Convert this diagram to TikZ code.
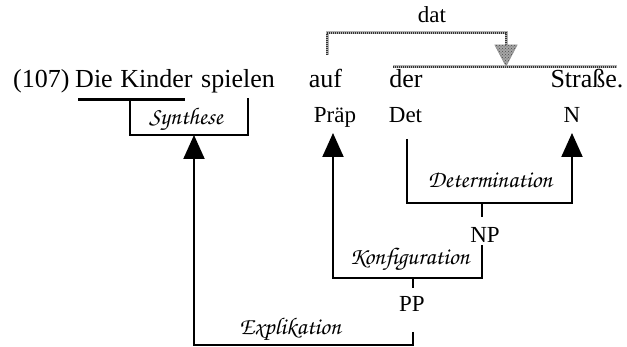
\documentclass[tikz,border=0pt]{standalone}
\usepackage{fontspec}
\setmainfont{Liberation Serif}
\newfontfamily\chancery{texgyrechorus-mediumitalic.otf}
\usetikzlibrary{arrows.meta,patterns}

\tikzset{
  word/.style={anchor=base, inner sep=0pt, font=\fontsize{26}{30}\selectfont},
  cat/.style={anchor=base, inner sep=0pt, font=\fontsize{23}{26}\selectfont},
  rel/.style={anchor=base, inner sep=0pt, font=\chancery\fontsize{24}{28}\selectfont},
  branch/.style={line width=2pt, line cap=rect},
  arr/.style={branch, line cap=butt, -{Triangle[width=21pt,length=24pt]}},
  datbase/.style={line width=3pt, draw=gray!60},
  datdots/.style={line width=1.6pt, draw=black!80, dash pattern=on 1pt off 1pt},
}

\begin{document}
\begin{tikzpicture}[x=1pt, y=-1pt]
\useasboundingbox (0,0) rectangle (627,347);

% sentence
\node[word] (num)  at (41.3,87.5)  {(107)};
\node[word] (die)  at (94,87.5)    {Die};
\node[word] (kind) at (156.5,87.5) {Kinder};
\node[word] (spi)  at (238,87.5)   {spielen};
\node[word] (auf)  at (325.5,87.5) {auf};
\node[word] (der)  at (406,87.5)   {der};
\node[word] (str)  at (587,87.5)   {Straße.};

% categories
\node[cat] (dat)  at (432,23)  {dat};
\node[cat] (prap) at (335,123) {Präp};
\node[cat] (det)  at (405.5,123) {Det};
\node[cat] (n)    at (572,123) {N};
\node[cat] (np)   at (485,243) {NP};
\node[cat] (pp)   at (412,312) {PP};

% relation labels
\node[rel] (syn)  at (186,125)   {Synthese};
\node[rel] (detm) at (490,188)   {Determination};
\node[rel] (konf) at (409.5,265) {Konfiguration};
\node[rel] (expl) at (290,335)   {Explikation};

% bend points
\coordinate (ulA) at (78,99.5);
\coordinate (ulB) at (185,99.5);
\coordinate (synL) at (130,99);
\coordinate (synLB) at (130,135);
\coordinate (synRB) at (248,135);
\coordinate (synR) at (248,99);
\coordinate (synTip) at (194,135);
\coordinate (ppFoot) at (413,332);
\coordinate (expR) at (413,345);
\coordinate (ppHead) at (413,287);
\coordinate (konfMid) at (413,278);
\coordinate (npFoot) at (482,245);
\coordinate (konfR) at (482,278);
\coordinate (prapTip) at (333,133);
\coordinate (npHead) at (482,216);
\coordinate (detmMid) at (482,203);
\coordinate (detTop) at (407,139);
\coordinate (detmL) at (407,203);
\coordinate (nTip) at (572,133);
\coordinate (datL) at (327,55);
\coordinate (datLT) at (327,33);
\coordinate (datRT) at (506,33);
\coordinate (datStem) at (506,48);
\coordinate (datTip) at (506,66);
\coordinate (datWL) at (495,45);
\coordinate (datWR) at (517,45);
\coordinate (npA) at (393,67);
\coordinate (npB) at (617,67);

% Synthese
\draw[line width=3.2pt] (ulA) -- (ulB);
\draw[branch] (synL) -- (synLB) -- (synRB) -- (synR);

% Explikation
\draw[arr] (ppFoot) -- (expR) -| (synTip);

% Konfiguration
\draw[branch] (konfMid) -- (ppHead);
\draw[arr] (npFoot) -- (konfR) -| (prapTip);

% Determination
\draw[branch] (detmMid) -- (npHead);
\draw[arr] (detTop) -- (detmL) -| (nTip);

% dative government
\foreach \s in {datbase, datdots} {
  \draw[\s] (datL) -- (datLT) -- (datRT) -- (datStem);
  \draw[\s] (npA) -- (npB);
}
\filldraw[fill=gray!70, draw=gray!80, line width=0.8pt]
  (datWL) -- (datWR) -- (datTip) -- cycle;
\fill[pattern=crosshatch dots, pattern color=black!70]
  (datWL) -- (datWR) -- (datTip) -- cycle;
\end{tikzpicture}
\end{document}
